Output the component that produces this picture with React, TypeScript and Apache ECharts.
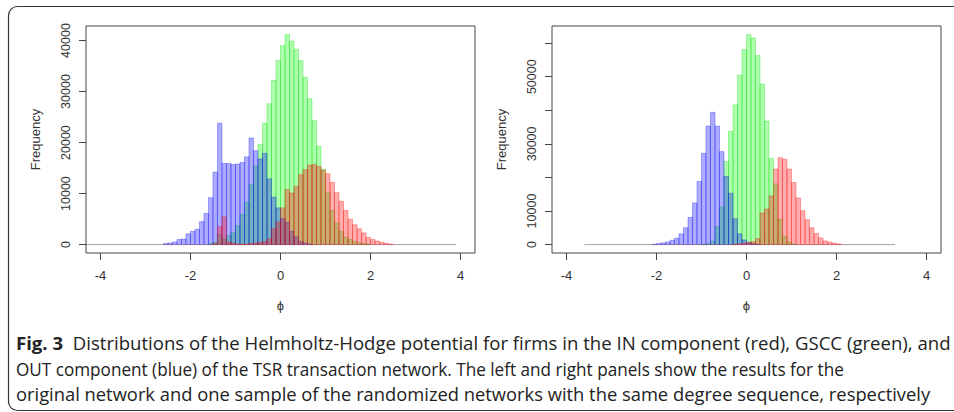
import React, { useEffect, useRef } from 'react';
import * as echarts from 'echarts';

// ---- data (bin width 0.1, each array starts at the given lower bin edge) ----
const BIN = 0.1;
const xTicks = [-4, -2, 0, 2, 4];

// Left panel: original network
const leftBreaks = [-4.5, 3.9];
const leftGreenStart = -1.6;
const leftGreen = [200, 500, 1900, 1100, 1800, 2400, 3700, 5900, 8300, 11700, 15300, 19600, 23800, 27600, 32200, 36100, 39000, 41200, 39900, 38300, 36100, 32800, 28600, 24300, 19300, 14800, 10300, 6700, 4200, 2600, 1500, 1000, 600, 400, 200, 100];
const leftBlueStart = -2.6;
const leftBlue = [200, 300, 500, 1000, 1100, 2100, 2600, 3000, 4500, 6100, 9200, 14200, 23800, 15900, 15900, 15700, 15800, 16100, 17200, 20900, 18400, 16800, 17900, 12900, 9300, 7200, 5100, 4400, 2600, 1500, 650, 300, 100];
const leftRedStart = -1.5;
const leftRed = [200, 3500, 5400, 500, 300, 100, 100, 100, 200, 300, 400, 600, 1100, 3100, 4400, 7200, 10800, 10100, 11400, 13700, 14700, 15600, 15700, 15300, 14600, 13900, 12200, 10200, 8500, 6700, 5000, 3900, 3100, 2300, 1400, 1000, 700, 450, 250, 100];
const leftYTicks = [0, 10000, 20000, 30000, 40000];
const leftYLabels = [0, 10000, 20000, 30000, 40000];

// Right panel: randomized network
const rightBreaks = [-3.6, 3.3];
const rightGreenStart = -1.0;
const rightGreen = [100, 300, 1000, 5400, 11200, 24800, 33700, 41600, 50500, 58100, 62600, 61500, 56300, 47800, 36800, 25700, 18100, 7600, 2500, 800, 200];
const rightBlueStart = -2.1;
const rightBlue = [100, 300, 500, 800, 1300, 1900, 3200, 5000, 8100, 12400, 18800, 27200, 35300, 39400, 35300, 27700, 20300, 15300, 7700, 3200, 1400, 700, 300, 100];
const rightRedStart = -0.3;
const rightRed = [100, 200, 400, 600, 900, 1800, 9400, 10600, 14500, 22500, 25900, 25400, 22500, 18500, 13900, 10100, 7400, 5000, 3300, 2000, 1100, 700, 400, 200];
const rightYTicks = [0, 10000, 20000, 30000, 40000, 50000, 60000];
const rightYLabels = [0, 10000, 30000, 50000];

const captionBold = 'Fig. 3';
const captionLines = [
  'Distributions of the Helmholtz-Hodge potential for firms in the IN component (red), GSCC (green), and',
  'OUT component (blue) of the TSR transaction network. The left and right panels show the results for the',
  'original network and one sample of the randomized networks with the same degree sequence, respectively',
];

const COLORS = {
  green: { rgb: '0,255,0', strokeRgb: '0,220,0' },
  blue: { rgb: '0,0,255', strokeRgb: '0,0,255' },
  red: { rgb: '255,0,0', strokeRgb: '255,0,0' },
};

function toBins(start: number, counts: number[], range: number[]) {
  const n = Math.round((range[1] - range[0]) / BIN);
  const out: number[][] = [];
  for (let i = 0; i < n; i++) {
    const x0 = +(range[0] + i * BIN).toFixed(2);
    const j = Math.round((x0 - start) / BIN);
    const c = j >= 0 && j < counts.length ? counts[j] : 0;
    out.push([x0, +(x0 + BIN).toFixed(2), c]);
  }
  return out;
}

function histSeries(idx: number, data: number[][], color: { rgb: string; strokeRgb: string }) {
  return {
    type: 'custom',
    xAxisIndex: idx,
    yAxisIndex: idx,
    clip: true,
    encode: { x: [0, 1], y: 2 },
    data,
    renderItem: (params: any, api: any) => {
      const x0 = api.value(0);
      const x1 = api.value(1);
      const v = api.value(2);
      const p0 = api.coord([x0, v]);
      const p1 = api.coord([x1, 0]);
      if (v === 0) {
        return {
          type: 'line',
          shape: { x1: p0[0], y1: p1[1], x2: p1[0], y2: p1[1] },
          style: { stroke: `rgba(${color.strokeRgb},0.2)`, lineWidth: 1 },
        };
      }
      return {
        type: 'rect',
        shape: { x: p0[0], y: p0[1], width: p1[0] - p0[0], height: p1[1] - p0[1] },
        style: { fill: `rgba(${color.rgb},0.32)`, stroke: `rgba(${color.strokeRgb},0.3)`, lineWidth: 1 },
      };
    },
  };
}

const FONT = 'Liberation Sans, Arial, sans-serif';
const AX = '#444';

function xAxisOpt(idx: number) {
  return {
    gridIndex: idx,
    type: 'value',
    min: -4.32,
    max: 4.32,
    splitLine: { show: false },
    axisLine: { show: false, onZero: false },
    axisTick: { show: true, inside: false, length: 7, lineStyle: { color: AX }, customValues: xTicks },
    axisLabel: { customValues: xTicks, margin: 16, fontSize: 13, color: '#333', fontFamily: FONT },
    name: '\u03d5',
    nameLocation: 'middle',
    nameGap: 46,
    nameTextStyle: { fontSize: 13, color: '#333', fontFamily: FONT },
  };
}

function yAxisOpt(idx: number, peak: number, ticks: number[], labels: number[]) {
  return {
    gridIndex: idx,
    type: 'value',
    min: -0.04 * peak,
    max: 1.04 * peak,
    splitLine: { show: false },
    axisLine: { show: false, onZero: false },
    axisTick: { show: true, inside: false, length: 7, lineStyle: { color: AX }, customValues: ticks },
    axisLabel: {
      customValues: labels,
      formatter: (v: number) => String(Math.round(v)),
      rotate: 90,
      margin: 14,
      fontSize: 12.5,
      color: '#333',
      fontFamily: FONT,
    },
    name: 'Frequency',
    nameLocation: 'middle',
    nameGap: 44,
    nameRotate: 90,
    nameTextStyle: { fontSize: 13, color: '#333', fontFamily: FONT },
  };
}

export default function App() {
  const ref = useRef<HTMLDivElement>(null);
  useEffect(() => {
    if (!ref.current) return;
    const chart = echarts.init(ref.current, undefined, { renderer: 'svg' });
    const leftPeak = Math.max(...leftGreen, ...leftBlue, ...leftRed);
    const rightPeak = Math.max(...rightGreen, ...rightBlue, ...rightRed);
    const capFont = 'Open Sans, Noto Sans, sans-serif';
    const capSize = 17.8;
    const capScale = [1.045, 0.963, 1.031];
    const capY = [343, 369, 394];
    chart.setOption({
      animation: false,
      backgroundColor: '#fff',
      grid: [
        { left: 86, top: 26, width: 389, height: 227, show: true, borderColor: AX, borderWidth: 1, backgroundColor: 'transparent' },
        { left: 552, top: 26, width: 389, height: 227, show: true, borderColor: AX, borderWidth: 1, backgroundColor: 'transparent' },
      ],
      xAxis: [xAxisOpt(0), xAxisOpt(1)],
      yAxis: [
        yAxisOpt(0, leftPeak, leftYTicks, leftYLabels),
        yAxisOpt(1, rightPeak, rightYTicks, rightYLabels),
      ],
      series: [
        histSeries(0, toBins(leftGreenStart, leftGreen, leftBreaks), COLORS.green),
        histSeries(0, toBins(leftBlueStart, leftBlue, leftBreaks), COLORS.blue),
        histSeries(0, toBins(leftRedStart, leftRed, leftBreaks), COLORS.red),
        histSeries(1, toBins(rightGreenStart, rightGreen, rightBreaks), COLORS.green),
        histSeries(1, toBins(rightBlueStart, rightBlue, rightBreaks), COLORS.blue),
        histSeries(1, toBins(rightRedStart, rightRed, rightBreaks), COLORS.red),
      ],
      graphic: [
        {
          type: 'rect',
          silent: true,
          shape: { x: 8.5, y: 6.5, width: 960, height: 404, r: 9 },
          style: { fill: 'none', stroke: '#333', lineWidth: 1.2 },
        },
        ...captionLines.map((line, i) => ({
          type: 'text',
          silent: true,
          x: 16,
          y: capY[i],
          scaleX: capScale[i],
          style: {
            x: 0,
            y: 0,
            verticalAlign: 'middle',
            text: i === 0 ? `{b|${captionBold}}  ${line}` : line,
            fontFamily: capFont,
            fontSize: capSize,
            fill: '#222',
            rich: { b: { fontWeight: 'bold', fontFamily: capFont, fontSize: capSize, fill: '#222' } },
          },
        })),
      ],
    });
    return () => chart.dispose();
  }, []);
  return <div ref={ref} style={{ position: 'fixed', left: 0, top: 0, width: 954, height: 412 }} />;
}
